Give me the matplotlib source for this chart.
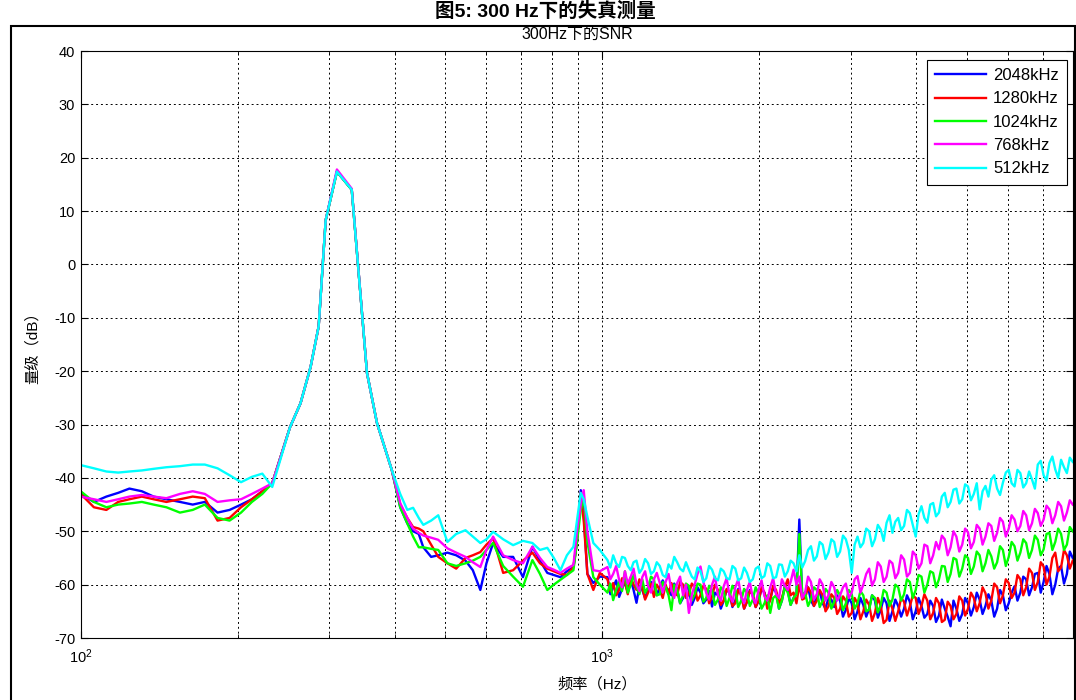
import matplotlib
matplotlib.use('Agg')
import matplotlib.pyplot as plt
from matplotlib.patches import Rectangle
from matplotlib.ticker import NullFormatter

# frequency axis (Hz), shared by all five curves
freq_hz = [100, 106, 112, 118, 124, 131, 138, 146, 155, 164, 173, 183, 193, 203, 213, 223, 233,
           252, 264, 276, 286, 295, 310, 331, 354, 370, 395,
           410, 423, 434, 445, 454, 470, 485, 505, 525, 547, 565, 584, 600, 618, 646,
           675, 705, 735, 760, 785, 808, 832, 856, 881, 895, 910, 922, 937, 962, 990,
           1024, 1037, 1050, 1064, 1078, 1092, 1106, 1120, 1135, 1149, 1164, 1179, 1194, 1209, 1225, 1241, 1257, 1273, 1290, 1307,
           1324, 1341, 1358, 1375, 1393, 1411, 1430, 1448, 1467, 1486, 1505, 1524, 1544, 1564, 1584, 1604, 1625, 1646, 1668, 1689,
           1711, 1733, 1755, 1778, 1801, 1824, 1848, 1872, 1896, 1920, 1945, 1970, 1996, 2022, 2048, 2074, 2101, 2128, 2156, 2184,
           2212, 2241, 2270, 2299, 2329, 2359, 2389, 2420, 2451, 2483, 2515, 2548, 2581, 2614, 2648, 2682, 2717, 2752, 2787, 2823,
           2860, 2897, 2934, 2972, 3011, 3050, 3089, 3129, 3169, 3210, 3252, 3294, 3336, 3379, 3423, 3467, 3512, 3558, 3604, 3650,
           3697, 3745, 3794, 3843, 3892, 3943, 3994, 4045, 4097, 4150, 4204, 4259, 4314, 4369, 4426, 4483, 4541, 4600, 4659, 4719,
           4780, 4842, 4905, 4968, 5032, 5097, 5163, 5230, 5297, 5366, 5435, 5506, 5577, 5649, 5722, 5796, 5870, 5946, 6023, 6101,
           6180, 6260, 6340, 6422, 6505, 6590, 6675, 6761, 6848, 6937, 7026, 7117, 7209, 7303, 7397, 7493, 7589, 7688, 7787, 7888,
           7990]

snr_2048 = [-43.0, -44.5, -43.5, -42.8, -42.0, -42.5, -43.5, -44.0, -44.5, -45.0, -44.5, -46.5, -46.0, -45.0, -44.0, -42.5, -41.0,
            -30.5, -26.0, -19.2, -11.6, 8.3, 17.4, 14.0, -20.3, -29.7, -38.5,
            -45.5, -48.5, -50.0, -50.5, -53.0, -54.8, -54.5, -54.0, -54.5, -55.5, -57.3, -61.0, -56.0, -52.2, -54.8,
            -54.8, -58.6, -52.9, -55.5, -57.8, -58.2, -58.6, -57.5, -56.7, -52.0, -42.3, -47.0, -58.0, -59.7, -58.5,
            -58.6, -61.8, -60.5, -59.2, -62.3, -60.8, -59.5, -61.5, -59.1, -61.0, -63.4, -60.2, -61.0, -62.5, -61.0, -59.5, -60.0, -62.0, -60.4, -59.2,
            -60.5, -61.0, -62.0, -59.8, -60.8, -63.5, -62.5, -60.2, -61.0, -63.8, -62.5, -60.5, -61.5, -63.5, -62.8, -61.2, -64.1, -61.5, -62.0, -64.5,
            -63.0, -61.0, -61.5, -64.2, -63.0, -60.8, -61.8, -64.5, -63.2, -61.0, -62.0, -64.2, -63.0, -60.8, -61.5, -64.0, -62.8, -60.5, -61.5, -64.5,
            -63.0, -60.2, -61.0, -63.8, -62.5, -61.8, -47.8, -62.5, -61.5, -60.5, -63.0, -64.0, -62.0, -61.2, -63.5, -64.5, -62.5, -62.8, -64.2, -62.0,
            -63.0, -66.0, -64.7, -62.5, -63.5, -66.5, -65.0, -62.5, -63.8, -66.0, -64.5, -62.0, -63.0, -66.2, -64.7, -62.5, -63.5, -66.8, -65.0, -62.8,
            -64.0, -66.0, -64.5, -62.0, -63.2, -66.5, -65.0, -62.5, -64.0, -66.2, -65.5, -63.0, -64.0, -67.0, -65.8, -62.8, -64.5, -66.0, -67.8, -63.0,
            -64.5, -66.8, -65.5, -62.5, -63.5, -65.8, -64.2, -61.5, -62.8, -65.5, -64.0, -61.8, -63.0, -66.0, -64.5, -61.0, -62.0, -64.8, -63.5, -61.5,
            -60.3, -63.0, -61.5, -58.5, -59.0, -62.0, -60.5, -58.0, -57.8, -61.5, -59.5, -56.5, -58.0, -61.8, -60.0, -57.0, -56.5, -59.8, -58.0, -53.8,
            -55.0]

snr_1280 = [-43.0, -45.5, -46.0, -44.5, -44.0, -43.5, -44.0, -44.5, -44.0, -43.5, -43.8, -48.0, -47.5, -45.5, -44.0, -42.5, -41.0,
            -30.5, -26.0, -19.2, -11.6, 8.3, 17.4, 14.0, -20.3, -29.7, -38.5,
            -45.0, -47.5, -49.2, -49.5, -50.0, -52.5, -54.8, -56.0, -57.0, -55.0, -54.5, -53.9, -52.5, -51.3, -57.8,
            -57.3, -55.5, -54.0, -56.0, -57.0, -57.5, -58.0, -58.2, -56.7, -52.0, -42.8, -48.0, -58.0, -61.0, -57.8,
            -59.0, -61.2, -59.7, -62.0, -61.0, -58.8, -59.5, -61.8, -58.6, -60.0, -61.0, -59.0, -60.5, -62.8, -61.5, -59.8, -62.3, -60.0, -61.0, -62.5,
            -60.0, -61.8, -59.7, -61.2, -62.0, -59.5, -60.0, -62.5, -61.8, -59.8, -60.5, -63.0, -62.0, -60.2, -60.8, -63.5, -62.2, -60.0, -61.0, -63.8,
            -63.0, -60.8, -61.5, -64.0, -63.5, -61.0, -62.0, -64.5, -63.2, -61.2, -61.8, -64.2, -63.0, -60.5, -61.5, -64.5, -62.8, -60.2, -61.0, -63.5,
            -62.5, -60.5, -59.0, -62.0, -61.5, -63.5, -60.0, -62.8, -62.5, -60.5, -61.5, -64.0, -63.0, -61.0, -62.0, -65.0, -64.1, -61.8, -62.5, -65.5,
            -64.5, -62.2, -63.0, -66.0, -65.3, -62.5, -63.5, -66.5, -65.0, -62.8, -63.8, -66.8, -65.3, -62.5, -64.0, -67.2, -66.6, -63.0, -64.5, -66.8,
            -65.0, -62.5, -63.2, -65.8, -64.1, -62.0, -62.5, -65.5, -64.0, -61.8, -63.0, -66.5, -65.3, -62.5, -63.5, -67.0, -66.6, -63.2, -64.0, -66.5,
            -65.5, -62.2, -63.0, -65.8, -64.5, -61.5, -62.5, -65.0, -63.5, -60.5, -61.6, -64.5, -63.0, -59.8, -60.5, -63.5, -62.0, -59.0, -59.7, -62.5,
            -61.5, -58.2, -59.0, -62.0, -60.5, -57.0, -57.8, -61.0, -59.5, -55.8, -56.6, -60.0, -58.5, -55.0, -54.0, -57.5, -56.8, -53.5, -54.5, -57.0,
            -55.5]

snr_1024 = [-42.5, -44.5, -45.5, -45.0, -44.8, -44.5, -45.0, -45.5, -46.5, -46.0, -45.0, -47.5, -48.0, -46.5, -44.5, -43.0, -41.0,
            -30.5, -26.0, -19.2, -11.6, 8.3, 17.4, 14.0, -20.3, -29.7, -38.5,
            -45.5, -48.5, -51.0, -53.0, -53.0, -53.3, -53.5, -56.0, -56.5, -56.0, -55.5, -54.8, -53.5, -52.2, -56.5,
            -58.5, -60.4, -55.4, -58.0, -61.0, -60.0, -59.1, -58.2, -57.3, -52.0, -46.0, -43.6, -52.0, -58.6, -60.0,
            -61.5, -59.8, -62.9, -61.0, -59.5, -61.2, -57.5, -61.5, -60.0, -58.2, -60.4, -61.8, -59.0, -61.5, -60.5, -58.5, -59.0, -62.0, -61.8, -59.5,
            -60.5, -62.0, -64.8, -60.0, -61.0, -63.5, -62.0, -59.8, -60.2, -63.0, -61.8, -59.8, -60.0, -63.2, -62.5, -60.2, -61.0, -63.8, -62.8, -60.5,
            -61.2, -64.0, -62.5, -60.2, -61.0, -64.2, -63.0, -60.8, -61.5, -64.0, -62.8, -60.5, -61.8, -64.5, -63.5, -62.0, -65.3, -62.5, -62.0, -64.5,
            -63.0, -60.5, -61.5, -63.8, -62.5, -61.8, -50.5, -62.0, -61.5, -64.0, -62.8, -60.5, -61.0, -64.2, -63.0, -60.8, -61.5, -64.5, -63.2, -61.0,
            -62.0, -64.8, -63.5, -61.0, -61.8, -64.5, -63.5, -61.2, -62.0, -65.0, -64.7, -62.0, -62.5, -65.2, -63.8, -61.0, -61.5, -64.0, -62.8, -60.0,
            -60.5, -63.0, -61.8, -59.0, -59.5, -62.5, -61.0, -58.2, -58.5, -61.5, -60.0, -57.5, -57.8, -60.5, -59.0, -56.5, -56.6, -59.5, -58.0, -55.0,
            -55.3, -58.5, -57.0, -54.5, -55.0, -58.0, -56.6, -53.8, -54.5, -57.5, -56.0, -53.5, -54.7, -57.0, -55.8, -52.8, -53.5, -56.5, -54.8, -52.0,
            -52.8, -55.5, -54.0, -51.5, -52.2, -55.0, -53.5, -50.8, -51.6, -54.5, -53.4, -50.5, -50.3, -53.5, -52.0, -49.5, -50.5, -53.5, -52.5, -49.2,
            -50.0]

snr_768 = [-43.5, -44.0, -44.5, -44.0, -43.5, -43.2, -43.5, -43.8, -43.0, -42.5, -43.0, -44.5, -44.2, -44.0, -43.0, -42.0, -41.0,
           -30.5, -26.0, -19.2, -11.6, 8.3, 17.8, 14.2, -20.3, -29.7, -38.5,
           -44.7, -47.5, -49.5, -50.3, -50.8, -51.2, -51.6, -53.2, -54.0, -54.8, -55.8, -56.7, -53.5, -51.0, -54.5,
           -55.4, -56.0, -52.9, -55.0, -56.7, -57.2, -57.8, -57.0, -56.3, -50.0, -45.0, -42.3, -50.0, -57.3, -57.5,
           -56.7, -59.0, -58.0, -56.5, -59.1, -60.5, -57.5, -59.8, -58.5, -57.0, -60.0, -61.2, -58.6, -57.5, -60.3, -61.5, -59.0, -57.8, -59.7, -61.5,
           -59.5, -58.0, -61.0, -62.5, -59.7, -58.5, -62.0, -60.0, -65.3, -62.0, -60.0, -58.0, -56.6, -59.5, -61.6, -62.8, -60.0, -58.5, -62.0, -63.0,
           -60.3, -58.8, -62.0, -63.2, -60.5, -59.0, -62.2, -63.5, -61.0, -59.5, -62.5, -63.5, -61.0, -59.2, -62.2, -63.0, -60.5, -58.8, -61.8, -62.5,
           -59.0, -60.2, -61.0, -59.5, -57.2, -60.0, -58.5, -62.5, -61.5, -58.5, -59.5, -62.8, -61.8, -59.0, -60.0, -63.0, -62.0, -59.5, -60.5, -63.0,
           -62.0, -60.5, -59.8, -62.5, -61.5, -59.0, -58.4, -61.5, -60.0, -58.0, -57.0, -60.2, -59.0, -55.8, -56.6, -59.5, -58.5, -55.5, -56.0, -58.8,
           -57.8, -54.5, -55.3, -58.5, -57.8, -53.8, -54.5, -57.0, -56.0, -52.5, -52.8, -56.0, -54.5, -52.0, -53.4, -50.8, -51.5, -54.5, -53.0, -50.0,
           -51.0, -53.8, -52.5, -49.5, -50.2, -53.2, -52.0, -48.8, -49.5, -52.5, -51.0, -48.5, -49.0, -51.8, -50.3, -47.5, -48.2, -51.0, -49.5, -47.0,
           -47.8, -50.0, -49.0, -46.2, -47.0, -49.8, -48.5, -45.8, -46.6, -49.0, -47.8, -45.2, -45.9, -48.5, -47.0, -44.5, -45.3, -48.0, -46.5, -44.2,
           -45.0]

snr_512 = [-37.6, -38.2, -38.8, -39.0, -38.8, -38.6, -38.3, -38.0, -37.8, -37.5, -37.5, -38.2, -39.5, -40.8, -39.8, -39.2, -41.7,
           -30.5, -26.0, -19.2, -11.6, 8.3, 17.4, 14.0, -20.3, -29.7, -38.5,
           -43.0, -46.0, -45.6, -47.5, -48.8, -48.0, -47.0, -52.0, -50.5, -49.8, -51.0, -52.2, -51.5, -50.1, -51.5,
           -52.6, -51.8, -52.2, -53.5, -53.1, -55.0, -57.3, -54.5, -52.9, -48.0, -42.8, -44.0, -47.3, -52.2, -53.5,
           -55.4, -56.8, -54.5, -56.0, -56.7, -54.8, -55.0, -56.5, -57.3, -55.8, -55.5, -57.8, -57.0, -55.2, -56.0, -58.0, -57.5, -55.8, -56.5, -58.2,
           -58.6, -56.2, -57.0, -54.8, -55.8, -57.0, -57.5, -55.8, -57.2, -58.5, -59.0, -56.8, -57.5, -59.5, -58.8, -56.5, -57.2, -58.8, -59.2, -57.0,
           -57.5, -58.8, -59.0, -56.5, -57.0, -59.2, -58.8, -56.8, -57.8, -59.5, -59.0, -57.0, -56.6, -58.8, -58.4, -56.0, -56.5, -58.8, -58.6, -56.2,
           -56.3, -58.5, -57.5, -55.5, -56.0, -57.5, -54.5, -56.8, -55.6, -53.5, -52.8, -55.5, -54.7, -52.0, -52.5, -55.2, -54.0, -51.5, -52.0, -54.8,
           -53.8, -50.8, -51.5, -53.5, -57.8, -52.5, -51.0, -53.0, -52.2, -49.5, -50.0, -52.8, -51.5, -48.8, -49.7, -51.8, -48.4, -47.0, -50.3, -48.2,
           -47.5, -49.8, -49.0, -46.0, -46.6, -48.8, -51.0, -46.8, -45.3, -47.5, -48.4, -45.0, -44.7, -47.2, -46.5, -43.5, -42.8, -45.5, -44.5, -42.2,
           -42.0, -44.8, -44.0, -41.2, -41.6, -44.2, -43.0, -41.0, -45.9, -42.5, -41.5, -43.5, -40.3, -39.5, -42.0, -43.2, -40.9, -39.0, -38.5, -41.0,
           -41.6, -38.5, -39.1, -41.8, -41.0, -38.8, -40.3, -42.0, -37.5, -36.8, -39.5, -40.5, -37.2, -36.0, -38.4, -40.0, -36.6, -38.0, -39.1, -36.2,
           -37.0]

labels = ['2048kHz', '1280kHz', '1024kHz', '768kHz', '512kHz']
colors = ['#0000ff', '#ff0000', '#00ff00', '#ff00ff', '#00ffff']
series = [snr_2048, snr_1280, snr_1024, snr_768, snr_512]

plt.rcParams['font.family'] = ['Liberation Sans', 'Noto Sans CJK SC']
plt.rcParams['axes.unicode_minus'] = False
plt.rcParams['mathtext.fontset'] = 'custom'
plt.rcParams['mathtext.rm'] = 'Liberation Sans'
plt.rcParams['mathtext.it'] = 'Liberation Sans:italic'
plt.rcParams['mathtext.bf'] = 'Liberation Sans:bold'

fig = plt.figure(figsize=(10.76, 7.0), dpi=100)
ax = fig.add_axes([80.7 / 1076, 62 / 700, (1073 - 80.7) / 1076, 587 / 700])

for lab, vals, col in zip(labels, series, colors):
    ax.plot(freq_hz, vals, color=col, linewidth=1.7, label=lab)

ax.set_xscale('log')
ax.set_xlim(100, 8000)
ax.set_ylim(-70, 40)
ax.set_yticks(range(-70, 41, 10))
ax.xaxis.set_minor_formatter(NullFormatter())

grid_style = dict(color='k', linestyle=(0, (2, 3)), linewidth=0.7)
ax.grid(True, which='major', axis='both', **grid_style)
ax.grid(True, which='minor', axis='x', **grid_style)

ax.tick_params(which='both', direction='in', top=True, right=True, labelsize=10.5)
ax.tick_params(which='major', length=5)
ax.tick_params(which='minor', length=3)
ax.tick_params(axis='x', which='major', pad=7)
ax.tick_params(axis='y', which='major', pad=4)
for sp in ax.spines.values():
    sp.set_linewidth(0.8)

ax.set_title('300Hz下的SNR', fontsize=11.5, pad=9)
ax.set_xlabel('频率（Hz）', fontsize=11)
ax.set_ylabel('量级（dB）', fontsize=11)
ax.xaxis.set_label_coords(0.521, -0.066)
ax.yaxis.set_label_coords(-0.041, 0.5)

leg = ax.legend(loc='upper right', bbox_to_anchor=(0.994, 0.985), borderaxespad=0,
                fancybox=False, edgecolor='k', framealpha=1, fontsize=12,
                handlelength=3.05, handletextpad=0.4, labelspacing=0.5, borderpad=0.5)
leg.get_frame().set_linewidth(0.8)

# outer frame and caption of the original figure
fig.add_artist(Rectangle((11 / 1076, -0.05), (1075 - 11) / 1076, 0.05 + (700 - 26) / 700,
                         transform=fig.transFigure, fill=False, linewidth=1.5, edgecolor='k'))
fig.text(0.5065, 0.998, '图5: 300 Hz下的失真测量', ha='center', va='top',
         fontsize=14, fontweight='bold')

fig.savefig('out.png', dpi=100)
